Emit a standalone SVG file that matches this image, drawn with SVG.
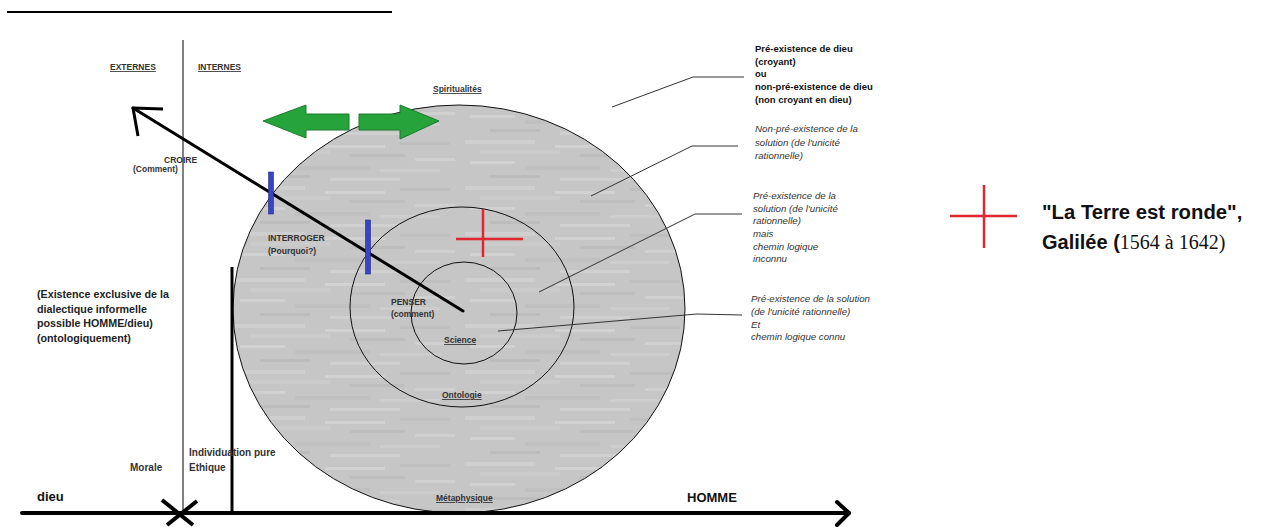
<svg xmlns="http://www.w3.org/2000/svg" width="1261" height="529" viewBox="0 0 1261 529">
<style>
text{font-family:"Liberation Sans",Arial,sans-serif;}
.lbl{font-size:8.5px;font-weight:bold;fill:#333;}
.ul{text-decoration:underline;}
.bl{font-size:9.5px;font-weight:bold;fill:#111;}
.it{font-size:9.7px;font-style:italic;fill:#333;}
.lead{stroke:#333;stroke-width:1;fill:none;}
.ring{stroke:#111;stroke-width:1;}
.blue{fill:#3b44c0;stroke:#232a8a;stroke-width:0.6;}
.red{stroke:#e0262e;stroke-width:2.5;}
.green{fill:#27a33c;stroke:#1c7a2b;stroke-width:1;}
</style>
<defs>
<pattern id="tex" patternUnits="userSpaceOnUse" width="230" height="46">
<rect width="230" height="46" fill="#c6c6c6"/>
<rect x="5" y="2" width="70" height="4" fill="#cfcfcf"/>
<rect x="95" y="7" width="60" height="3" fill="#d2d2d2"/>
<rect x="170" y="4" width="50" height="3" fill="#bfbfbf"/>
<rect x="20" y="12" width="80" height="4" fill="#cbcbcb"/>
<rect x="120" y="16" width="55" height="3" fill="#bebebe"/>
<rect x="185" y="20" width="40" height="3" fill="#d0d0d0"/>
<rect x="10" y="23" width="45" height="3" fill="#d1d1d1"/>
<rect x="65" y="28" width="75" height="4" fill="#c0c0c0"/>
<rect x="150" y="31" width="60" height="3" fill="#cdcdcd"/>
<rect x="30" y="37" width="50" height="3" fill="#bdbdbd"/>
<rect x="100" y="40" width="70" height="3" fill="#d0d0d0"/>
</pattern>
</defs>
<rect width="1261" height="529" fill="#fff"/>

<g id="top-rule"><line x1="7" y1="12" x2="392" y2="12" stroke="#000" stroke-width="2"/></g>

<g id="circles">
<ellipse id="metaphysique" class="ring" cx="459" cy="309" rx="226" ry="204" fill="url(#tex)"/>
<ellipse id="ontologie" class="ring" cx="462" cy="307" rx="112" ry="100" fill="url(#tex)"/>
<ellipse id="science" class="ring" cx="464" cy="313" rx="53" ry="51" fill="none"/>
</g>

<g id="connectors">
<line x1="183" y1="40" x2="183" y2="515" stroke="#808080" stroke-width="2"/>
<line x1="232" y1="267" x2="232" y2="513" stroke="#000" stroke-width="3"/>
<line x1="22" y1="513" x2="849" y2="513" stroke="#000" stroke-width="4" stroke-linecap="round"/>
<polyline points="837,502 849,513 837,525" fill="none" stroke="#000" stroke-width="4" stroke-linecap="round" stroke-linejoin="round"/>
<line x1="162" y1="500" x2="193" y2="525" stroke="#000" stroke-width="4"/>
<line x1="197" y1="501" x2="167" y2="525" stroke="#000" stroke-width="4"/>
<line x1="463" y1="311" x2="133" y2="108" stroke="#000" stroke-width="3" stroke-linecap="round"/>
<polyline points="163,109 133,108 138,136" fill="none" stroke="#000" stroke-width="3" stroke-linejoin="round"/>
<polyline class="lead" points="612,107 693,77 744,77"/>
<polyline class="lead" points="591,196 692,146 738,146"/>
<polyline class="lead" points="539,292 695,214 742,214"/>
<polyline class="lead" points="498,331 697,314 742,315"/>
</g>

<g id="blue-bars">
<rect class="blue" x="268.5" y="172" width="5" height="42"/>
<rect class="blue" x="365.5" y="220" width="5" height="54"/>
</g>

<g id="green-arrows">
<polygon class="green" points="263,121 306,105 306,114 349,114 349,130 306,130 306,138"/>
<polygon class="green" points="359,114 400,114 400,105 439,121 400,139 400,130 359,130"/>
</g>

<g id="red-cross-inner">
<line class="red" x1="456" y1="239" x2="523" y2="239"/>
<line class="red" x1="483" y1="209" x2="483" y2="257"/>
</g>

<g id="legend">
<line class="red" x1="950" y1="216" x2="1017" y2="216"/>
<line class="red" x1="984" y1="185" x2="984" y2="248"/>
<text x="1042" y="219" font-size="20.3" font-weight="bold" fill="#111">"La Terre est ronde",</text>
<text x="1042" y="249" font-size="20" fill="#111"><tspan font-weight="bold">Galilée (</tspan><tspan font-family="Liberation Serif, serif">1564 à 1642)</tspan></text>
</g>

<g id="labels">
<text class="lbl ul" x="110" y="70">EXTERNES</text>
<text class="lbl ul" x="198" y="70">INTERNES</text>
<text class="lbl" x="164" y="163">CROIRE</text>
<text class="lbl" x="133" y="172">(Comment)</text>
<text class="lbl ul" x="433" y="92">Spiritualités</text>
<text class="lbl" x="268" y="241">INTERROGER</text>
<text class="lbl" x="268" y="254">(Pourquoi?)</text>
<text class="lbl" x="391" y="305">PENSER</text>
<text class="lbl" x="391" y="317">(comment)</text>
<text class="lbl ul" x="444" y="343">Science</text>
<text class="lbl ul" x="442" y="398">Ontologie</text>
<text class="lbl ul" x="436" y="501">Métaphysique</text>
<text x="687" y="502" font-size="13" font-weight="bold" fill="#111">HOMME</text>
<text x="37" y="501" font-size="13" font-weight="bold" fill="#111">dieu</text>
<text x="130" y="471" font-size="10" font-weight="bold" fill="#333">Morale</text>
<text x="189" y="456" font-size="10" font-weight="bold" fill="#333">Individuation pure</text>
<text x="189" y="471" font-size="10" font-weight="bold" fill="#333">Ethique</text>
</g>

<g id="left-text" font-size="10.7" font-weight="bold" fill="#222">
<text x="37" y="298">(Existence exclusive de la</text>
<text x="37" y="313">dialectique informelle</text>
<text x="37" y="327">possible HOMME/dieu)</text>
<text x="37" y="342">(ontologiquement)</text>
</g>

<g id="note-dieu">
<text class="bl" x="755" y="52">Pré-existence de dieu</text>
<text class="bl" x="755" y="65">(croyant)</text>
<text class="bl" x="755" y="77">ou</text>
<text class="bl" x="755" y="90">non-pré-existence de dieu</text>
<text class="bl" x="755" y="103">(non croyant en dieu)</text>
</g>
<g id="note-spirit">
<text class="it" x="755" y="132">Non-pré-existence de la</text>
<text class="it" x="755" y="146">solution (de l'unicité</text>
<text class="it" x="755" y="159">rationnelle)</text>
</g>
<g id="note-onto">
<text class="it" x="753" y="199">Pré-existence de la</text>
<text class="it" x="753" y="212">solution (de l'unicité</text>
<text class="it" x="753" y="224">rationnelle)</text>
<text class="it" x="753" y="237">mais</text>
<text class="it" x="753" y="250">chemin logique</text>
<text class="it" x="753" y="262">inconnu</text>
</g>
<g id="note-science">
<text class="it" x="751" y="302">Pré-existence de la solution</text>
<text class="it" x="751" y="315">(de l'unicité rationnelle)</text>
<text class="it" x="751" y="328">Et</text>
<text class="it" x="751" y="340">chemin logique connu</text>
</g>
</svg>
